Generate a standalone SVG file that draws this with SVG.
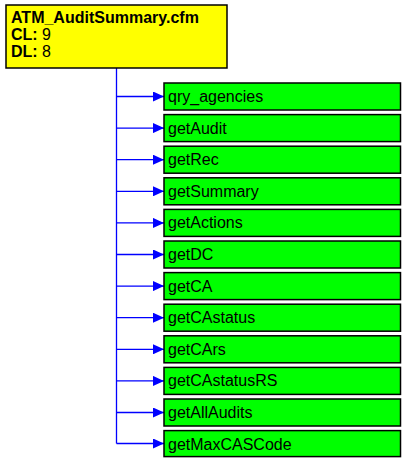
<svg xmlns="http://www.w3.org/2000/svg" width="417" height="469" viewBox="0 0 417 469">
<defs>
<style>
.root{fill:#ffff00;stroke:#000;stroke-width:1.5}
.q{fill:#00ff00;stroke:#000;stroke-width:1.5}
.t{font-family:"Liberation Sans",Arial,sans-serif;font-size:16px;fill:#000}
.b{font-weight:bold}
.c{stroke:#0000ff;stroke-width:1.3;fill:none}
</style>
<marker id="ah" markerWidth="12" markerHeight="10" refX="11" refY="5" orient="auto" markerUnits="userSpaceOnUse">
<path d="M0,0 L11,5 L0,10 Z" fill="#0000ff"/>
</marker>
</defs>
<g id="connectors">
<path class="c" d="M116.5,68 V443.5"/>
<path class="c" d="M116.5,96.5 H164" marker-end="url(#ah)"/>
<path class="c" d="M116.5,128.1 H164" marker-end="url(#ah)"/>
<path class="c" d="M116.5,159.7 H164" marker-end="url(#ah)"/>
<path class="c" d="M116.5,191.3 H164" marker-end="url(#ah)"/>
<path class="c" d="M116.5,222.9 H164" marker-end="url(#ah)"/>
<path class="c" d="M116.5,254.5 H164" marker-end="url(#ah)"/>
<path class="c" d="M116.5,286.1 H164" marker-end="url(#ah)"/>
<path class="c" d="M116.5,317.7 H164" marker-end="url(#ah)"/>
<path class="c" d="M116.5,349.3 H164" marker-end="url(#ah)"/>
<path class="c" d="M116.5,380.9 H164" marker-end="url(#ah)"/>
<path class="c" d="M116.5,412.5 H164" marker-end="url(#ah)"/>
<path class="c" d="M116.5,443.5 H164" marker-end="url(#ah)"/>
</g>
<g id="root">
<rect class="root" x="6" y="5" width="221" height="63"/>
<text class="t b" x="11" y="23">ATM_AuditSummary.cfm</text>
<text class="t" x="11" y="40"><tspan class="b">CL:</tspan> 9</text>
<text class="t" x="11" y="57"><tspan class="b">DL:</tspan> 8</text>
</g>
<g id="n1"><rect class="q" x="164" y="83" width="236.5" height="27"/><text class="t" x="168" y="102">qry_agencies</text></g>
<g id="n2"><rect class="q" x="164" y="114.6" width="236.5" height="27"/><text class="t" x="168" y="133.6">getAudit</text></g>
<g id="n3"><rect class="q" x="164" y="146.2" width="236.5" height="27"/><text class="t" x="168" y="165.2">getRec</text></g>
<g id="n4"><rect class="q" x="164" y="177.8" width="236.5" height="27"/><text class="t" x="168" y="196.8">getSummary</text></g>
<g id="n5"><rect class="q" x="164" y="209.4" width="236.5" height="27"/><text class="t" x="168" y="228.4">getActions</text></g>
<g id="n6"><rect class="q" x="164" y="241" width="236.5" height="27"/><text class="t" x="168" y="260">getDC</text></g>
<g id="n7"><rect class="q" x="164" y="272.6" width="236.5" height="27"/><text class="t" x="168" y="291.6">getCA</text></g>
<g id="n8"><rect class="q" x="164" y="304.2" width="236.5" height="27"/><text class="t" x="168" y="323.2">getCAstatus</text></g>
<g id="n9"><rect class="q" x="164" y="335.8" width="236.5" height="27"/><text class="t" x="168" y="354.8">getCArs</text></g>
<g id="n10"><rect class="q" x="164" y="367.4" width="236.5" height="27"/><text class="t" x="168" y="386.4">getCAstatusRS</text></g>
<g id="n11"><rect class="q" x="164" y="399" width="236.5" height="27"/><text class="t" x="168" y="418">getAllAudits</text></g>
<g id="n12"><rect class="q" x="164" y="430.6" width="236.5" height="26"/><text class="t" x="168" y="449.6">getMaxCASCode</text></g>
</svg>
